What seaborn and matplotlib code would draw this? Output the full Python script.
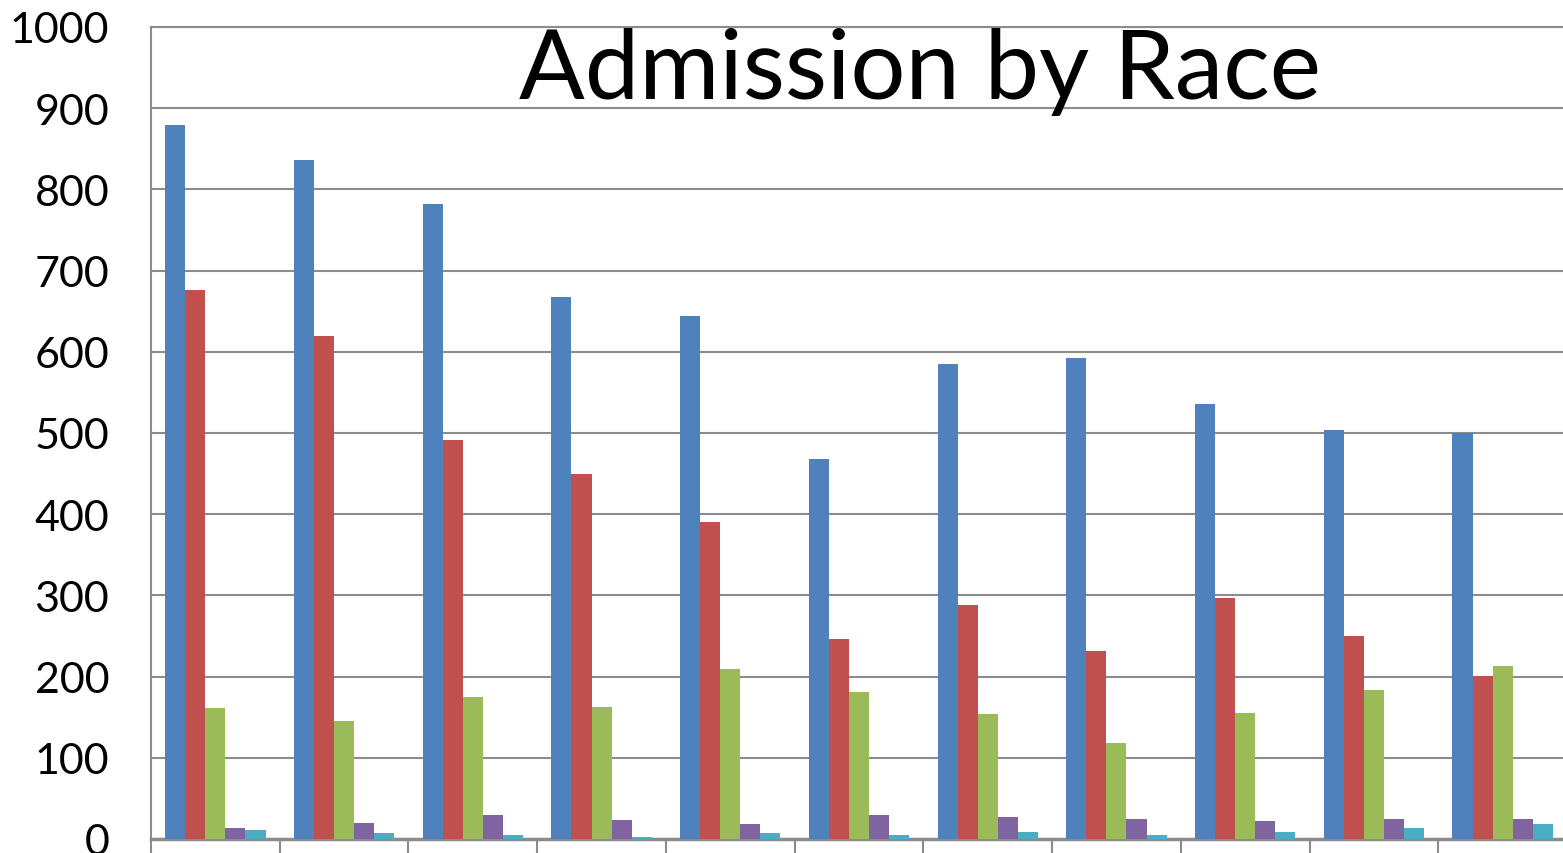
import matplotlib
matplotlib.use('Agg')
import matplotlib.pyplot as plt
import seaborn as sns
import pandas as pd

# values (11 groups, 5 series, no category labels shown)
groups = [str(i) for i in range(1, 12)]
series = ["A", "B", "C", "D", "E"]
blue   = [879, 836, 782, 667, 644, 468, 585, 592, 536, 504, 500]
red    = [676, 619, 491, 450, 390, 246, 288, 232, 297, 250, 201]
green  = [161, 145, 175, 163, 209, 181, 154, 118, 155, 183, 213]
purple = [14, 20, 29, 24, 18, 30, 27, 25, 22, 25, 25]
teal   = [11, 7, 5, 3, 7, 5, 9, 5, 9, 13, 18]
colors = ["#4f81bd", "#c0504d", "#9bbb59", "#8064a2", "#4bacc6"]

df = pd.DataFrame({"group": groups * 5,
                   "series": [s for s in series for _ in groups],
                   "value": blue + red + green + purple + teal})

sns.set_style("white")
plt.rcParams['font.family'] = ['Lato', 'DejaVu Sans']
plt.rcParams['text.color'] = 'black'
plt.rcParams['ytick.color'] = 'black'

fig = plt.figure(figsize=(15.63, 8.54), dpi=100)
ax = fig.add_axes([151 / 1563, 14 / 854, 1416 / 1563, 812 / 854])

sns.barplot(data=df, x="group", y="value", hue="series", palette=colors,
            width=0.78, saturation=1, ax=ax, legend=False, zorder=3)
for p in ax.patches:
    p.set_edgecolor("none")

ax.set_ylim(0, 1000)
ax.set_xlim(-0.5, len(groups) - 0.5)
ax.set_yticks(range(0, 1001, 100))
ax.yaxis.grid(True, color="#8c8c8c", lw=1.5, zorder=0)
ax.set_axisbelow(True)
ax.tick_params(axis='y', length=0, labelsize=31, pad=30, labelcolor="black")

ax.set_xticks([i - 0.5 for i in range(len(groups) + 1)])
ax.set_xticklabels([])
ax.tick_params(axis='x', bottom=True, direction='out', length=12, width=1.5,
               color="#8c8c8c")
ax.set_xlabel("")
ax.set_ylabel("")

for side in ["left", "bottom", "top"]:
    ax.spines[side].set_color("#8c8c8c")
    ax.spines[side].set_linewidth(1.5)
ax.spines["right"].set_visible(False)
ax.spines["bottom"].set_linewidth(2.5)

fig.text(920 / 1563, 1 - 72 / 854, "Admission by Race", fontsize=70,
         ha="center", va="center", color="black")

plt.savefig("out.png", dpi=100)
